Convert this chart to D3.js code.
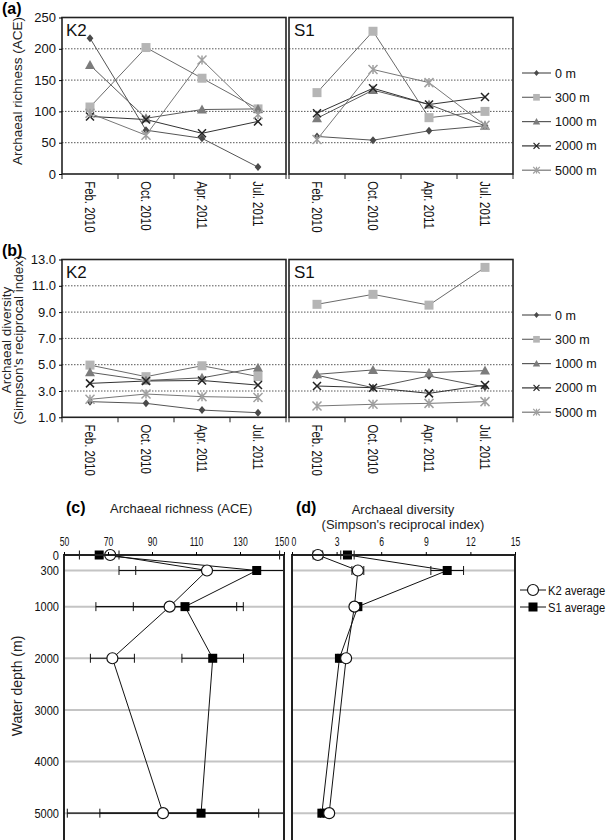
<!DOCTYPE html>
<html>
<head>
<meta charset="utf-8">
<script src="https://cdn.jsdelivr.net/npm/d3@7"></script>
<style>
body { margin: 0; background: #fff; }
svg { display: block; font-family: "Liberation Sans", Arial, sans-serif; }
</style>
</head>
<body>
<script>
// ---- data ----
var months = ["Feb. 2010", "Oct. 2010", "Apr. 2011", "Jul. 2011"];
var depthNames = ["0 m", "300 m", "1000 m", "2000 m", "5000 m"];
var stations = ["K2", "S1"];

// (a) archaeal richness (ACE), one row per depth
var aceK2 = [[217, 70, 57, 11], [107, 202, 153, 104], [174, 89, 103, 104], [92, 87, 65, 84], [97, 62, 182, 95]];
var aceS1 = [[60, 54, 69, 77], [130, 228, 90, 100], [89, 134, 111, 77], [97, 137, 111, 123], [55, 167, 146, 78]];

// (b) archaeal diversity (Simpson's reciprocal index)
var divK2 = [[2.19, 2.06, 1.55, 1.35], [4.97, 4.09, 4.92, 4.1], [4.42, 3.8, 4.0, 4.77], [3.58, 3.76, 3.8, 3.45], [2.37, 2.77, 2.57, 2.5]];
var divS1 = [[4.2, 3.25, 4.14, 3.3], [9.59, 10.35, 9.53, 12.4], [4.27, 4.6, 4.39, 4.55], [3.38, 3.25, 2.82, 3.45], [1.86, 1.99, 2.06, 2.19]];

var aceTicks = [0, 50, 100, 150, 200, 250];
var divTicks = [1, 3, 5, 7, 9, 11, 13];

// (c), (d) depth profiles
var depthM = [0, 300, 1000, 2000, 5000];
var depthTicks = [0, 300, 1000, 2000, 3000, 4000, 5000];
var k2AceMean = [71, 115, 98, 72, 95];
var k2AceErr = [77, 40, 33.5, 10, 43.5];
var s1AceMean = [66, 137.6, 105, 117.6, 112.3];
var s1AceErr = [9, 55, 23.5, 14, 46];
var k2DivMean = [1.74, 4.43, 4.2, 3.64, 2.5];
var k2DivErr = [0.32, 0.4, 0.2, 0.1, 0.1];
var s1DivMean = [3.73, 10.44, 4.43, 3.19, 2.01];
var s1DivErr = [0.45, 1.1, 0.15, 0.1, 0.1];
var aceAxisTicks = [50, 70, 90, 110, 130, 150];
var divAxisTicks = [0, 3, 6, 9, 12, 15];

// ---- marker shapes ----
var shapeDiamond = { draw: function(c, s) { var r = Math.sqrt(s) / 2; c.moveTo(0, -r); c.lineTo(r * 0.85, 0); c.lineTo(0, r); c.lineTo(-r * 0.85, 0); c.closePath(); } };
var shapeSquare = { draw: function(c, s) { var r = Math.sqrt(s) / 2; c.rect(-r, -r, 2 * r, 2 * r); } };
var shapeTriangle = { draw: function(c, s) { var r = Math.sqrt(s) / 2; c.moveTo(0, -r); c.lineTo(r, r * 0.8); c.lineTo(-r, r * 0.8); c.closePath(); } };
var shapeCross = { draw: function(c, s) { var r = Math.sqrt(s) / 2; c.moveTo(-r, -r); c.lineTo(r, r); c.moveTo(r, -r); c.lineTo(-r, r); } };
var shapeStar = { draw: function(c, s) { var r = Math.sqrt(s) / 2; c.moveTo(-r, -r); c.lineTo(r, r); c.moveTo(r, -r); c.lineTo(-r, r); c.moveTo(0, -r); c.lineTo(0, r); } };

var seriesStyle = [
  { shape: shapeDiamond, size: 64, fill: "#4a4a4a", stroke: "none", line: "#555" },
  { shape: shapeSquare, size: 81, fill: "#b5b5b5", stroke: "none", line: "#6a6a6a" },
  { shape: shapeTriangle, size: 100, fill: "#7c7c7c", stroke: "none", line: "#5a5a5a" },
  { shape: shapeCross, size: 64, fill: "none", stroke: "#222", line: "#333" },
  { shape: shapeStar, size: 81, fill: "none", stroke: "#a0a0a0", line: "#777" }
];

// horizontally squeeze text (the figure uses a narrow face)
function squeeze(sel, sx) {
  sel.each(function() {
    var t = d3.select(this);
    var x = +t.attr("x") || 0, y = +t.attr("y") || 0;
    t.attr("x", 0).attr("y", 0).attr("transform", "translate(" + x + "," + y + ") scale(" + sx + ",1)");
  });
}

var svg = d3.select("body").append("svg").attr("width", 610).attr("height", 840);

var panelX = [[62, 286], [289, 513]];

function drawTimePanel(top, bottom, domain, ticks, fmt, data, labelY) {
  stations.forEach(function(st, i) {
    var x = d3.scalePoint().domain(months).range(panelX[i]).padding(0.5);
    var xb = d3.scaleBand().domain(months).range(panelX[i]);
    var y = d3.scaleLinear().domain(domain).range([bottom, top]);
    var g = svg.append("g");

    g.selectAll(".grid").data(ticks.slice(1, -1)).enter().append("line")
      .attr("x1", panelX[i][0]).attr("x2", panelX[i][1])
      .attr("y1", function(d) { return y(d); }).attr("y2", function(d) { return y(d); })
      .attr("stroke", "#444").attr("stroke-width", 0.9).attr("stroke-dasharray", "1.5,1.5");

    var line = d3.line().x(function(d, j) { return x(months[j]); }).y(function(d) { return y(d); });
    data[i].forEach(function(vals, k) {
      g.append("path").attr("d", line(vals)).attr("fill", "none")
        .attr("stroke", seriesStyle[k].line).attr("stroke-width", 1);
    });
    data[i].forEach(function(vals, k) {
      var st2 = seriesStyle[k];
      g.selectAll(".m" + k).data(vals).enter().append("path")
        .attr("transform", function(d, j) { return "translate(" + x(months[j]) + "," + y(d) + ")"; })
        .attr("d", d3.symbol().type(st2.shape).size(st2.size))
        .attr("fill", st2.fill).attr("stroke", st2.stroke).attr("stroke-width", 1.5);
    });

    g.append("rect").attr("x", panelX[i][0]).attr("y", top)
      .attr("width", panelX[i][1] - panelX[i][0]).attr("height", bottom - top)
      .attr("fill", "none").attr("stroke", "#222").attr("stroke-width", 1.6);

    // tick marks between months
    var bounds = months.map(function(m) { return xb(m); }).concat([panelX[i][1]]);
    g.selectAll(".bt").data(bounds).enter().append("line")
      .attr("x1", function(d) { return d; }).attr("x2", function(d) { return d; })
      .attr("y1", bottom).attr("y2", bottom + 5).attr("stroke", "#222").attr("stroke-width", 1);

    var xa = g.append("g").attr("transform", "translate(0," + bottom + ")")
      .call(d3.axisBottom(x).tickSize(0));
    xa.select(".domain").remove();
    xa.selectAll("text")
      .attr("transform", "rotate(90) scale(0.76,1)").attr("text-anchor", "start")
      .attr("x", 9.5).attr("y", 0).attr("dy", "0.35em")
      .attr("font-size", 15).attr("fill", "#111");

    if (i === 0) {
      var ya = g.append("g").attr("transform", "translate(" + panelX[0][0] + ",0)")
        .call(d3.axisLeft(y).tickValues(ticks).tickFormat(fmt).tickSize(3).tickPadding(3));
      ya.select(".domain").remove();
      ya.selectAll("text").attr("font-size", 13).attr("fill", "#111");
    }

    g.append("text").attr("x", panelX[i][0] + (i === 0 ? 4 : 5)).attr("y", top + 18)
      .attr("font-size", 17).attr("fill", "#111").text(st);
  });

  // legend
  var lg = svg.append("g");
  depthNames.forEach(function(name, k) {
    var ly = labelY + k * 24.3;
    var st2 = seriesStyle[k];
    lg.append("line").attr("x1", 522).attr("x2", 551).attr("y1", ly).attr("y2", ly)
      .attr("stroke", st2.line).attr("stroke-width", 1.2);
    lg.append("path").attr("transform", "translate(536.5," + ly + ")")
      .attr("d", d3.symbol().type(st2.shape).size(st2.size * 0.55))
      .attr("fill", st2.fill).attr("stroke", st2.stroke).attr("stroke-width", 1.2);
    lg.append("text").attr("x", 555).attr("y", ly).attr("dy", "0.36em")
      .attr("font-size", 12.5).attr("fill", "#111").text(name);
  });
}

drawTimePanel(17.5, 174, [0, 250], aceTicks, d3.format("d"), [aceK2, aceS1], 73);
drawTimePanel(259.5, 417.3, [1, 13], divTicks, d3.format(".1f"), [divK2, divS1], 315);

// panel letters and axis titles
svg.append("text").attr("x", 2).attr("y", 14).attr("font-size", 16).attr("font-weight", "bold").text("(a)");
svg.append("text").attr("x", 2).attr("y", 256).attr("font-size", 16).attr("font-weight", "bold").text("(b)");
svg.append("text").attr("transform", "translate(22,91) rotate(-90)").attr("text-anchor", "middle")
  .attr("font-size", 13.5).attr("fill", "#222").text("Archaeal richness (ACE)");
svg.append("text").attr("transform", "translate(11,340) rotate(-90)").attr("text-anchor", "middle")
  .attr("font-size", 13.5).attr("fill", "#222").text("Archaeal diversity");
svg.append("text").attr("transform", "translate(23,340) rotate(-90)").attr("text-anchor", "middle")
  .attr("font-size", 13.5).attr("fill", "#222").text("(Simpson's reciprocal index)");

// ---- (c) and (d) depth profiles ----
var top2 = 555, bottom2 = 839;
var yDepth = d3.scaleLinear().domain([0, 5500]).range([top2, bottom2]);

function drawDepthPanel(x0, x1, domain, axisTicks, k2Mean, k2Err, s1Mean, s1Err, clipId, leftAxis, edgeShift) {
  var x = d3.scaleLinear().domain(domain).range([x0, x1]);
  var g = svg.append("g");
  svg.append("clipPath").attr("id", clipId).append("rect")
    .attr("x", x0).attr("y", top2 - 10).attr("width", x1 - x0).attr("height", bottom2 - top2 + 10);

  g.selectAll(".grid").data(depthTicks.slice(1)).enter().append("line")
    .attr("x1", x0).attr("x2", x1)
    .attr("y1", function(d) { return yDepth(d); }).attr("y2", function(d) { return yDepth(d); })
    .attr("stroke", "#c4c4c4").attr("stroke-width", 2);

  var eg = g.append("g").attr("clip-path", "url(#" + clipId + ")");
  [[k2Mean, k2Err], [s1Mean, s1Err]].forEach(function(s) {
    depthM.forEach(function(dep, j) {
      var lo = s[0][j] - s[1][j], hi = s[0][j] + s[1][j], yy = yDepth(dep);
      eg.append("line").attr("x1", x(lo)).attr("x2", x(hi)).attr("y1", yy).attr("y2", yy)
        .attr("stroke", "#111").attr("stroke-width", 1.2);
      [lo, hi].forEach(function(v) {
        eg.append("line").attr("x1", x(v)).attr("x2", x(v)).attr("y1", yy - 4.5).attr("y2", yy + 4.5)
          .attr("stroke", "#111").attr("stroke-width", 1);
      });
    });
  });

  var line = d3.line().x(function(d) { return x(d[0]); }).y(function(d) { return yDepth(d[1]); });
  [k2Mean, s1Mean].forEach(function(m) {
    g.append("path").attr("d", line(m.map(function(v, j) { return [v, depthM[j]]; })))
      .attr("fill", "none").attr("stroke", "#111").attr("stroke-width", 1);
  });

  g.selectAll(".sq").data(s1Mean).enter().append("rect")
    .attr("x", function(d) { return x(d) - 4.5; })
    .attr("y", function(d, j) { return yDepth(depthM[j]) - 4.5; })
    .attr("width", 9).attr("height", 9).attr("fill", "#000");
  g.selectAll(".ci").data(k2Mean).enter().append("circle")
    .attr("cx", function(d) { return x(d); })
    .attr("cy", function(d, j) { return yDepth(depthM[j]); })
    .attr("r", 5.5).attr("fill", "#fff").attr("stroke", "#111").attr("stroke-width", 1.2);

  g.append("rect").attr("x", x0).attr("y", top2).attr("width", x1 - x0).attr("height", bottom2 - top2 + 2)
    .attr("fill", "none").attr("stroke", "#222").attr("stroke-width", 2);

  var xa = g.append("g").attr("transform", "translate(0," + top2 + ")")
    .call(d3.axisTop(x).tickValues(axisTicks).tickSize(3).tickPadding(6));
  xa.select(".domain").remove();
  xa.selectAll("text").attr("font-size", 12).attr("fill", "#111")
    .attr("x", function(d) { return d === edgeShift[0] ? edgeShift[1] : 0; });
  squeeze(xa.selectAll("text"), 0.72);

  if (leftAxis) {
    var ya = g.append("g").attr("transform", "translate(" + x0 + ",0)")
      .call(d3.axisLeft(yDepth).tickValues(depthTicks).tickFormat(d3.format("d")).tickSize(0).tickPadding(5));
    ya.select(".domain").remove();
    ya.selectAll("text").attr("font-size", 13).attr("fill", "#111");
    squeeze(ya.selectAll("text"), 0.85);
  }
}

drawDepthPanel(64, 284, [50, 150], aceAxisTicks, k2AceMean, k2AceErr, s1AceMean, s1AceErr, "clipc", true, [150, -2.5]);
drawDepthPanel(292, 515, [0, 15], divAxisTicks, k2DivMean, k2DivErr, s1DivMean, s1DivErr, "clipd", false, [0, 1.5]);

svg.append("text").attr("x", 66).attr("y", 513).attr("font-size", 16).attr("font-weight", "bold").text("(c)");
svg.append("text").attr("x", 110).attr("y", 513).attr("font-size", 13).attr("fill", "#222").text("Archaeal richness (ACE)");
svg.append("text").attr("x", 296).attr("y", 513).attr("font-size", 16).attr("font-weight", "bold").text("(d)");
svg.append("text").attr("x", 403).attr("y", 514).attr("text-anchor", "middle").attr("font-size", 13).attr("fill", "#222").text("Archaeal diversity");
svg.append("text").attr("x", 403).attr("y", 529).attr("text-anchor", "middle").attr("font-size", 13).attr("fill", "#222").text("(Simpson's reciprocal index)");
svg.append("text").attr("transform", "translate(22,686) rotate(-90)").attr("text-anchor", "middle")
  .attr("font-size", 14).attr("fill", "#222").text("Water depth (m)");

// legend for (c), (d)
var leg2 = svg.append("g");
["K2 average", "S1 average"].forEach(function(name, k) {
  var ly = 590 + k * 17;
  leg2.append("line").attr("x1", 520).attr("x2", 546).attr("y1", ly).attr("y2", ly).attr("stroke", "#111");
  if (k === 0) {
    leg2.append("circle").attr("cx", 533).attr("cy", ly).attr("r", 5.5).attr("fill", "#fff").attr("stroke", "#111").attr("stroke-width", 1.2);
  } else {
    leg2.append("rect").attr("x", 528.5).attr("y", ly - 4.5).attr("width", 9).attr("height", 9).attr("fill", "#000");
  }
  leg2.append("text").attr("x", 548).attr("y", ly).attr("dy", "0.36em").attr("font-size", 13).attr("fill", "#111").text(name);
});
squeeze(leg2.selectAll("text"), 0.86);
</script>
</body>
</html>
